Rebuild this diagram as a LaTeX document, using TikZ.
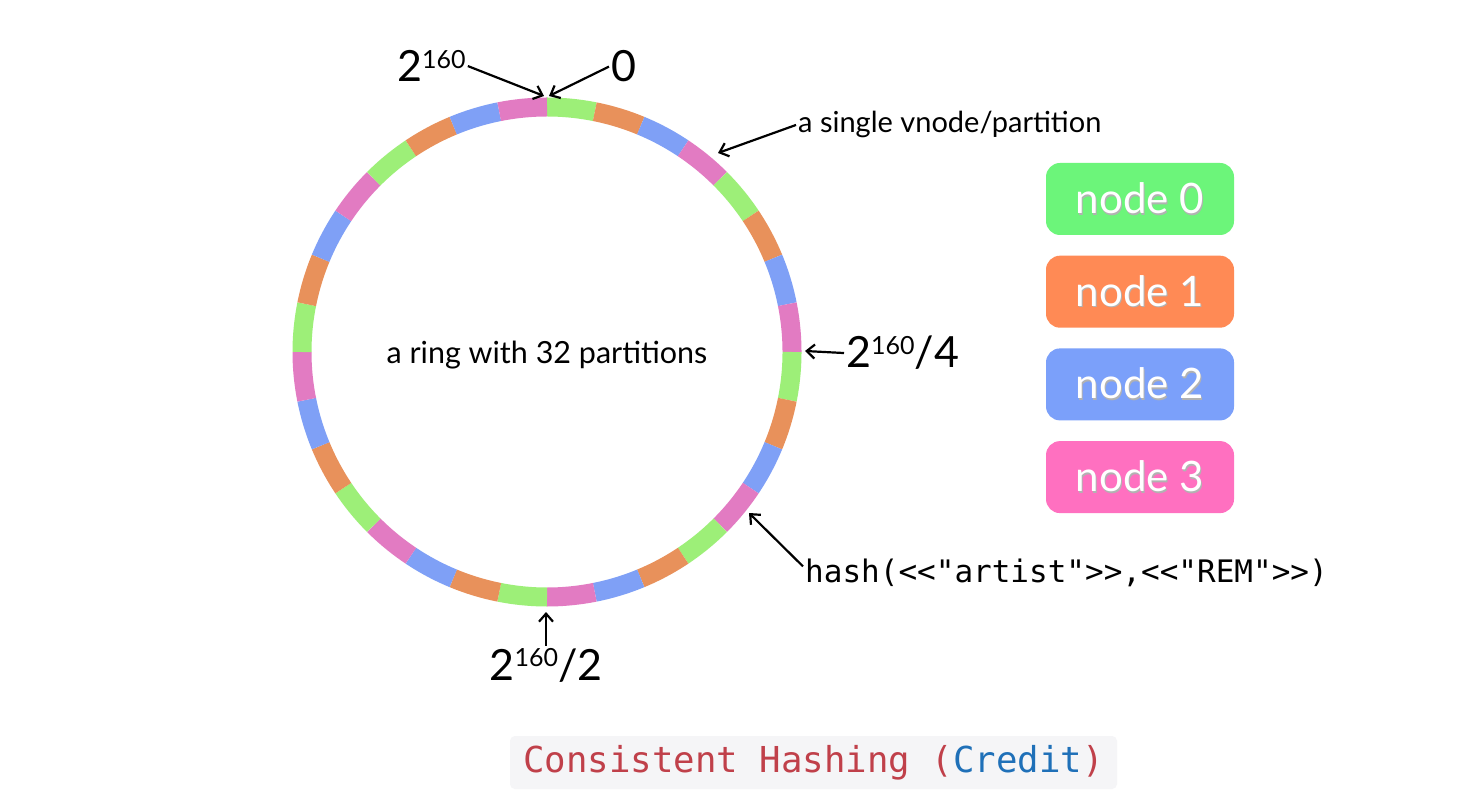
\documentclass[tikz,border=0pt]{standalone}
\usepackage{fontspec}
\setmainfont{Lato}
\newfontfamily\codefont{DejaVu Sans Mono}
\usetikzlibrary{arrows.meta}

\definecolor{ring0}{HTML}{9DEF78}
\definecolor{ring1}{HTML}{E8915B}
\definecolor{ring2}{HTML}{7FA0F6}
\definecolor{ring3}{HTML}{E27BC2}
\definecolor{leg0}{HTML}{6CF57A}
\definecolor{leg1}{HTML}{FF8A55}
\definecolor{leg2}{HTML}{7BA0FA}
\definecolor{leg3}{HTML}{FF70C0}
\definecolor{capred}{HTML}{C0404A}
\definecolor{capblue}{HTML}{1F70B8}
\definecolor{capbg}{HTML}{F5F5F7}

\newcommand\twopow{2\raisebox{.32em}{\fontsize{25}{25}\selectfont 160}}
\newcommand\shadowed[1]{\leavevmode\rlap{\kern1pt\raisebox{-1.5pt}{\color{black!30}#1}}#1}

\begin{document}
\begin{tikzpicture}[x=1pt,y=1pt]
\tikzset{biglabel/.style={font=\fontsize{43}{43}\selectfont, inner sep=2pt},
         smalllabel/.style={font=\fontsize{29}{29}\selectfont, inner sep=2pt},
         legend/.style={rounded corners=14pt, minimum width=188pt,
                        minimum height=72pt, text=white,
                        font=\fontsize{42}{42}\selectfont},
         pointer/.style={-{Straight Barb[length=8pt,width=14pt]}, line width=2.2pt}}
\useasboundingbox[fill=white] (0,0) rectangle (1474,804);

% the ring, 32 partitions
\foreach \i in {0,...,31}{
    \pgfmathtruncatemacro\k{mod(\i,4)}
    \pgfmathsetmacro\a{90-11.25*\i}
    \draw[ring\k, line width=19pt] ([shift={(\a:245)}]547,452)
        arc[start angle=\a, delta angle=-11.25, radius=245];
}
\node[smalllabel, font=\fontsize{30.5}{30.5}\selectfont, anchor=base] (ring)
    at (547,440) {a ring with 32 partitions};

% points on the ring
\coordinate (tfull) at (544,708);
\coordinate (tzero) at (549,708);
\coordinate (tvnode) at (718,651);
\coordinate (tquarter) at (805,453);
\coordinate (thash) at (749,291);
\coordinate (thalf) at (546,192);

\node[biglabel, anchor=base west] (full) at (395,722) {\twopow};
\node[biglabel, anchor=base west] (zero) at (609,722) {0};
\node[smalllabel, anchor=base west] (vnode) at (796,671) {a single vnode/partition};
\node[biglabel, anchor=base west] (quarter) at (844,436) {\twopow/4};
\node[anchor=base west, inner sep=2pt, font=\codefont\fontsize{31}{31}\selectfont]
    (hash) at (803,222) {hash(<<"artist">>,<<"REM">>)};
\node[biglabel, anchor=base] (half) at (546,124) {\twopow/2};

\draw[pointer] (full.east) -- (tfull);
\draw[pointer] (zero.west) -- (tzero);
\draw[pointer] (vnode.west) -- (tvnode);
\draw[pointer] (quarter.west) -- (tquarter);
\draw[pointer] ([yshift=6pt]hash.west) -- (thash);
\draw[pointer] (half.north) -- (thalf);

% legend
\foreach \n in {0,...,3}
    \node[legend, fill=leg\n] (key\n) at (1140,605-92.7*\n) {\shadowed{node \n}};

% caption
\node[fill=capbg, rounded corners=5pt, minimum width=607pt, minimum height=53pt,
      font=\codefont\fontsize{35.7}{35.7}\selectfont, text=capred]
    (caption) at (813.5,41.5) {Consistent Hashing (\textcolor{capblue}{Credit})};
\end{tikzpicture}
\end{document}
